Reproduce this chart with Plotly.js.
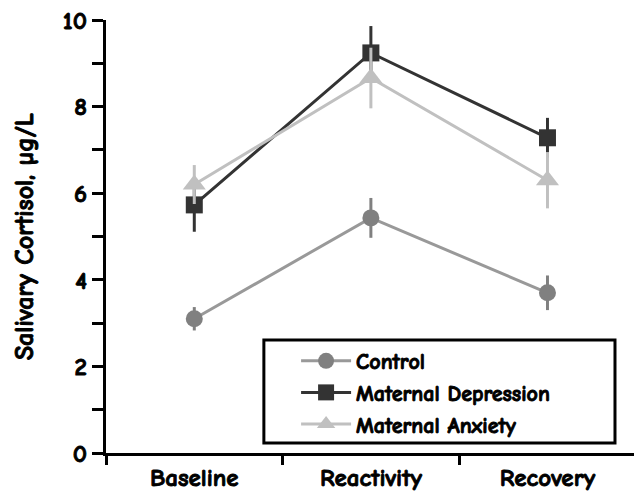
<!DOCTYPE html>
<html>
<head>
<meta charset="utf-8">
<script src="https://cdn.plot.ly/plotly-3.0.1.min.js"></script>
<style>
html,body{margin:0;padding:0;background:#fff;}
#chart{width:634px;height:494px;}
#chart .xtick text, #chart .ytick text, #chart .legendtext, #chart .ytitle {
  stroke: #000; stroke-width: 0.9px; paint-order: stroke fill;
}
</style>
</head>
<body>
<div id="chart"></div>
<script>
var categories = ["Baseline", "Reactivity", "Recovery"];
var controlMean = [3.1, 5.43, 3.7];
var controlErr = [0.27, 0.46, 0.4];
var depressionMean = [5.73, 9.24, 7.28];
var depressionErr = [0.62, 0.62, 0.46];
var anxietyMean = [6.2, 8.66, 6.3];
var anxietyErr = [0.45, 0.7, 0.65];
var yTickVals = [0,1,2,3,4,5,6,7,8,9,10];
var yTickText = ["0","","2","","4","","6","","8","","10"];

var FONT = "'Comic Sans MS', 'Comic Neue', 'DejaVu Sans', sans-serif";

function tr(name, y, err, color, lineColor, symbol, size) {
  return {
    type: "scatter", mode: "lines+markers", name: name,
    x: categories, y: y,
    error_y: {type: "data", array: err, visible: true, color: color, thickness: 3, width: 0},
    line: {color: lineColor, width: 3},
    marker: {color: color, symbol: symbol, size: size}
  };
}

var data = [
  tr("Control", controlMean, controlErr, "#808080", "#999999", "circle", 17),
  tr("Maternal Depression", depressionMean, depressionErr, "#333333", "#333333", "square", 17),
  tr("Maternal Anxiety", anxietyMean, anxietyErr, "#c0c0c0", "#c0c0c0", "triangle-up", 20)
];

var layout = {
  width: 634, height: 494,
  margin: {l: 106, r: 0, t: 20, b: 41},
  paper_bgcolor: "#fff", plot_bgcolor: "#fff",
  font: {family: FONT, color: "#000", size: 24, weight: 700},
  showlegend: true,
  legend: {
    x: 0.36, y: 0.261, xanchor: "left", yanchor: "top",
    borderwidth: 0, bgcolor: "rgba(0,0,0,0)",
    font: {family: FONT, size: 22, color: "#000", weight: 700},
    tracegroupgap: 0, itemwidth: 50
  },
  shapes: [{
    type: "rect", xref: "paper", yref: "paper",
    x0: 0.299, x1: 0.964, y0: 0.023, y1: 0.261,
    line: {color: "#000", width: 3}, fillcolor: "#fff", layer: "above"
  }],
  xaxis: {
    type: "category", range: [-0.5, 2.49],
    showline: true, linecolor: "#000", linewidth: 3,
    showgrid: false, zeroline: false,
    ticks: "outside", tickson: "boundaries", ticklen: 9, tickwidth: 3, tickcolor: "#000",
    tickfont: {family: FONT, size: 25, weight: 700},
    fixedrange: true
  },
  yaxis: {
    range: [0, 10],
    showline: true, linecolor: "#000", linewidth: 3,
    showgrid: false, zeroline: false,
    tickmode: "array", tickvals: yTickVals, ticktext: yTickText,
    ticks: "outside", ticklen: 11, tickwidth: 3, tickcolor: "#000",
    tickfont: {family: FONT, size: 25, weight: 700},
    title: {text: "Salivary Cortisol, \u00b5g/L", font: {family: FONT, size: 26, weight: 700}, standoff: 22},
    fixedrange: true
  }
};

Plotly.newPlot("chart", data, layout, {displayModeBar: false, staticPlot: true});
</script>
</body>
</html>
